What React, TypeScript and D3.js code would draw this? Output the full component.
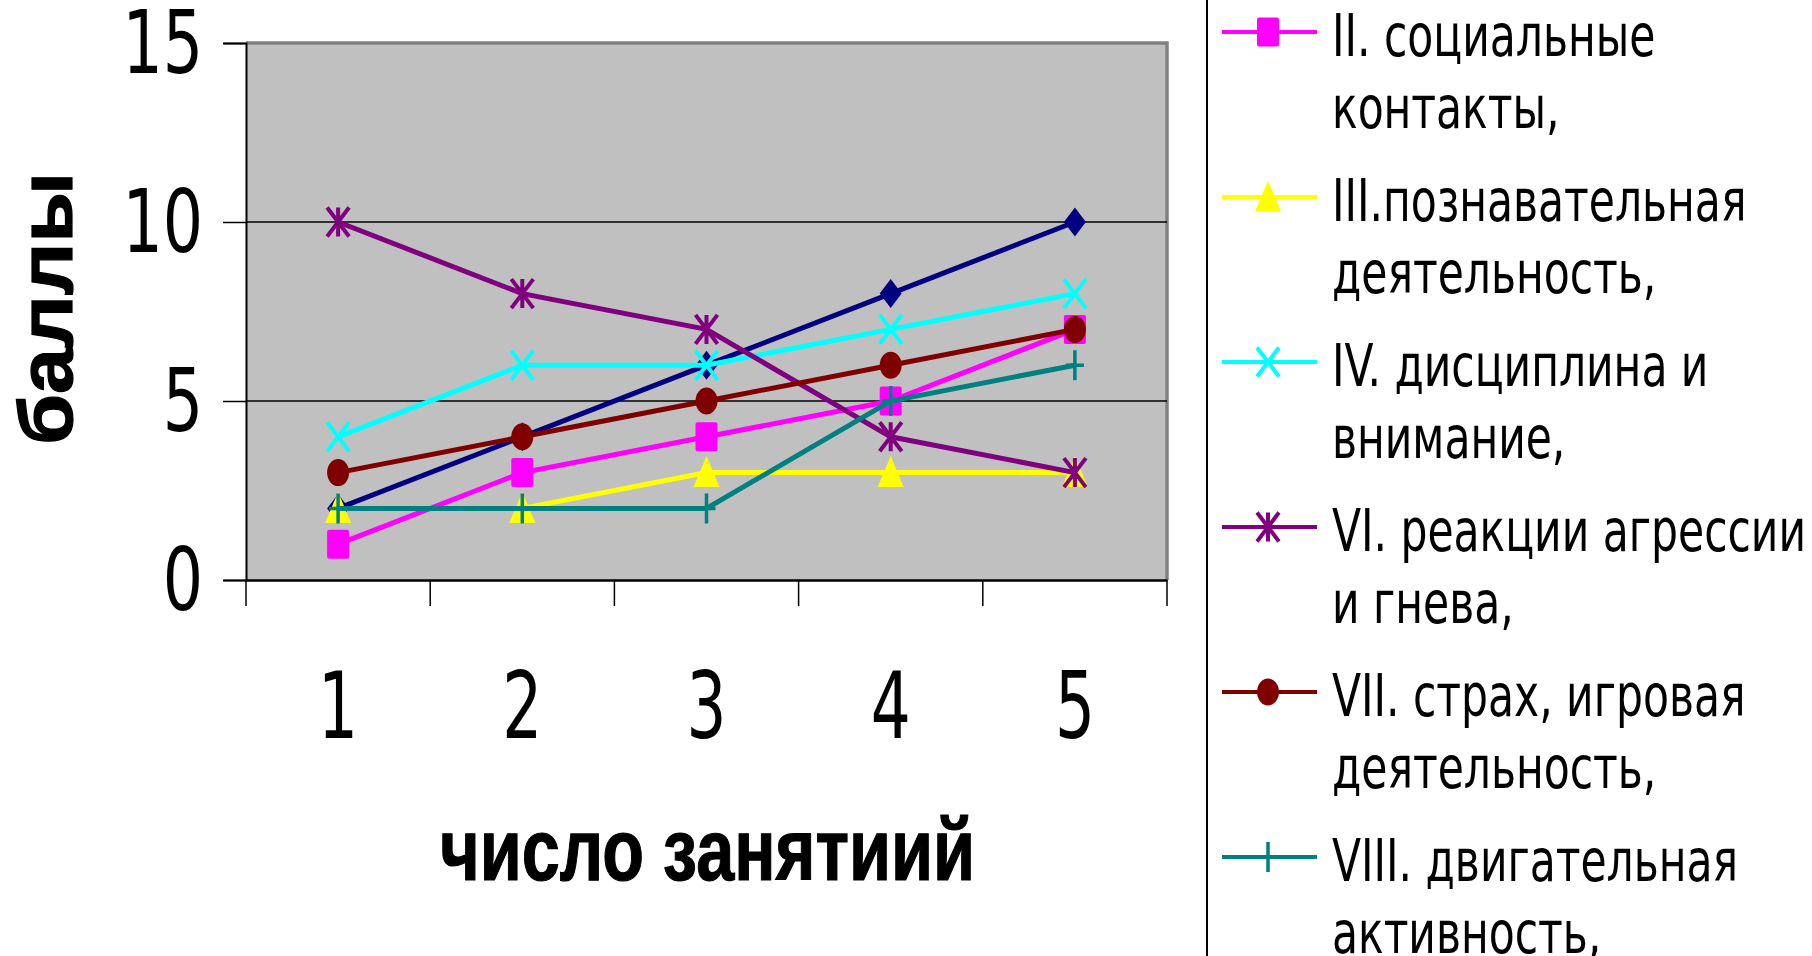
import { useEffect, useRef } from "react";
import * as d3 from "d3";

const categories = ["1", "2", "3", "4", "5"];
const yTicks = [0, 5, 10, 15];

const seriesNames = [
  "I.",
  "II. социальные контакты,",
  "III.познавательная деятельность,",
  "IV. дисциплина и внимание,",
  "VI. реакции агрессии и гнева,",
  "VII. страх, игровая деятельность,",
  "VIII. двигательная активность,",
];
const seriesValues = [
  [2, 4, 6, 8, 10],
  [1, 3, 4, 5, 7],
  [2, 2, 3, 3, 3],
  [4, 6, 6, 7, 8],
  [10, 8, 7, 4, 3],
  [3, 4, 5, 6, 7],
  [2, 2, 2, 5, 6],
];
const seriesColors = ["#000080", "#ff00ff", "#ffff00", "#00ffff", "#800080", "#800000", "#008080"];
const seriesMarkers = ["diamond", "square", "triangle", "cross", "star", "circle", "plus"];

// legend lines as they wrap in the picture (series I is scrolled out of view)
const legendLines = [
  ["II. социальные", "контакты,"],
  ["III.познавательная", "деятельность,"],
  ["IV. дисциплина и", "внимание,"],
  ["VI. реакции агрессии", "и гнева,"],
  ["VII. страх, игровая", "деятельность,"],
  ["VIII. двигательная", "активность,"],
];

const narrow = "'DejaVu Sans Condensed', 'DejaVu Sans', sans-serif";

function drawMarker(g: d3.Selection<SVGGElement, unknown, null, undefined>, kind: string, color: string) {
  const w = 22;
  const h = 29;
  if (kind === "diamond") {
    g.append("path").attr("d", `M0,${-h / 2}L${w / 2},0L0,${h / 2}L${-w / 2},0Z`).attr("fill", color);
  } else if (kind === "square") {
    g.append("rect").attr("x", -w / 2).attr("y", -h / 2).attr("width", w).attr("height", h).attr("rx", 2).attr("fill", color);
  } else if (kind === "triangle") {
    g.append("path").attr("d", `M0,${-h / 2 - 2}L${w / 2 + 2},${h / 2}L${-w / 2 - 2},${h / 2}Z`).attr("fill", color);
  } else if (kind === "circle") {
    g.append("ellipse").attr("rx", w / 2).attr("ry", h / 2 - 1).attr("fill", color);
  } else if (kind === "cross" || kind === "star") {
    const p = `M${-w / 2},${-h / 2}L${w / 2},${h / 2}M${w / 2},${-h / 2}L${-w / 2},${h / 2}` + (kind === "star" ? `M0,${-h / 2}L0,${h / 2}` : "");
    g.append("path").attr("d", p).attr("stroke", color).attr("stroke-width", 4).attr("fill", "none");
  } else if (kind === "plus") {
    g.append("path").attr("d", `M0,${-15}L0,15M-9,0L9,0`).attr("stroke", color).attr("stroke-width", 3.5).attr("fill", "none");
  }
}

export default function App() {
  const svgRef = useRef<SVGSVGElement>(null);

  useEffect(() => {
    if (!svgRef.current) return;
    const svg = d3.select(svgRef.current);
    svg.selectAll("*").remove();

    const left = 246;
    const right = 1167;
    const top = 43;
    const bottom = 580;

    const x = d3.scaleBand<string>().domain(categories).range([left, right]).padding(0);
    const y = d3.scaleLinear().domain([0, 15]).range([bottom, top]);
    const cx = (c: string) => (x(c) as number) + x.bandwidth() / 2;

    // plot area
    svg.append("rect")
      .attr("x", left).attr("y", top)
      .attr("width", right - left).attr("height", bottom - top)
      .attr("fill", "#c0c0c0");
    svg.append("path")
      .attr("d", `M${left},${top}H${right}V${bottom}`)
      .attr("fill", "none").attr("stroke", "#808080").attr("stroke-width", 3.5);

    // gridlines
    svg.append("g")
      .selectAll("line")
      .data(yTicks.filter((t) => t > 0 && t < 15))
      .join("line")
      .attr("x1", left).attr("x2", right)
      .attr("y1", (d) => y(d)).attr("y2", (d) => y(d))
      .attr("stroke", "#000").attr("stroke-width", 1.5);

    // y axis
    const sx = 0.8;
    const yAxis = svg.append("g")
      .attr("transform", `translate(${left},0)`)
      .call(d3.axisLeft(y).tickValues(yTicks).tickSize(23).tickFormat(d3.format("d")));
    yAxis.select(".domain").attr("stroke", "#000").attr("stroke-width", 2);
    yAxis.selectAll(".tick line").attr("stroke", "#000").attr("stroke-width", 1.5);
    yAxis.selectAll(".tick text")
      .attr("fill", "#000").attr("font-family", narrow).attr("font-size", 88)
      .attr("x", -43 / sx)
      .attr("transform", `scale(${sx},1)`)
      .attr("dy", "0.34em");

    // x axis
    const xAxis = svg.append("g")
      .attr("transform", `translate(0,${bottom})`)
      .call(d3.axisBottom(x).tickSize(0).tickPadding(0));
    xAxis.select(".domain").attr("stroke", "#000").attr("stroke-width", 2.5);
    xAxis.selectAll(".tick text")
      .attr("fill", "#000").attr("font-family", narrow).attr("font-size", 92)
      .attr("transform", "scale(0.76,1)")
      .attr("dy", 0).attr("y", 158);
    svg.append("g")
      .selectAll("line")
      .data([...categories.map((c) => x(c) as number), right])
      .join("line")
      .attr("x1", (d) => d).attr("x2", (d) => d)
      .attr("y1", bottom).attr("y2", bottom + 26)
      .attr("stroke", "#000").attr("stroke-width", 1.5);

    // series
    seriesValues.forEach((vals, i) => {
      const line = d3.line<number>().x((_, j) => cx(categories[j])).y((d) => y(d));
      svg.append("path")
        .datum(vals)
        .attr("d", line)
        .attr("fill", "none")
        .attr("stroke", seriesColors[i])
        .attr("stroke-width", 5);
      vals.forEach((v, j) => {
        const g = svg.append("g").attr("transform", `translate(${cx(categories[j])},${y(v)})`);
        drawMarker(g, seriesMarkers[i], seriesColors[i]);
      });
    });

    // axis titles
    svg.append("text")
      .attr("x", 440).attr("y", 880)
      .attr("font-family", "'Liberation Sans', Arial, sans-serif")
      .attr("font-weight", "bold").attr("font-size", 88)
      .attr("textLength", 535).attr("lengthAdjust", "spacingAndGlyphs")
      .attr("fill", "#000").attr("stroke", "#000").attr("stroke-width", 1.2)
      .text("число занятиий");
    svg.append("text")
      .attr("transform", `translate(72,445) rotate(-90)`)
      .attr("font-family", "'Liberation Sans', Arial, sans-serif")
      .attr("font-weight", "bold").attr("font-size", 76)
      .attr("textLength", 273).attr("lengthAdjust", "spacingAndGlyphs")
      .attr("fill", "#000").attr("stroke", "#000").attr("stroke-width", 1.2)
      .text("баллы");

    // legend
    svg.append("line")
      .attr("x1", 1207).attr("x2", 1207).attr("y1", 0).attr("y2", 956)
      .attr("stroke", "#000").attr("stroke-width", 2);
    const legendY = d3.scaleLinear().domain([0, 1]).range([32, 197]);
    legendLines.forEach((lines, k) => {
      const i = k + 1;
      const ly = legendY(k);
      svg.append("line")
        .attr("x1", 1222).attr("x2", 1317).attr("y1", ly).attr("y2", ly)
        .attr("stroke", seriesColors[i]).attr("stroke-width", 4);
      const g = svg.append("g").attr("transform", `translate(1268,${ly})`);
      drawMarker(g, seriesMarkers[i], seriesColors[i]);
      lines.forEach((t, r) => {
        svg.append("text")
          .attr("transform", `translate(1332,${ly + 24 + r * 72}) scale(0.8,1)`)
          .attr("font-family", narrow).attr("font-size", 59)
          .attr("fill", "#000")
          .text(t);
      });
    });
  }, []);

  return (
    <svg
      ref={svgRef}
      width={1812}
      height={956}
      style={{ position: "absolute", left: 0, top: 0, background: "#fff" }}
    />
  );
}
